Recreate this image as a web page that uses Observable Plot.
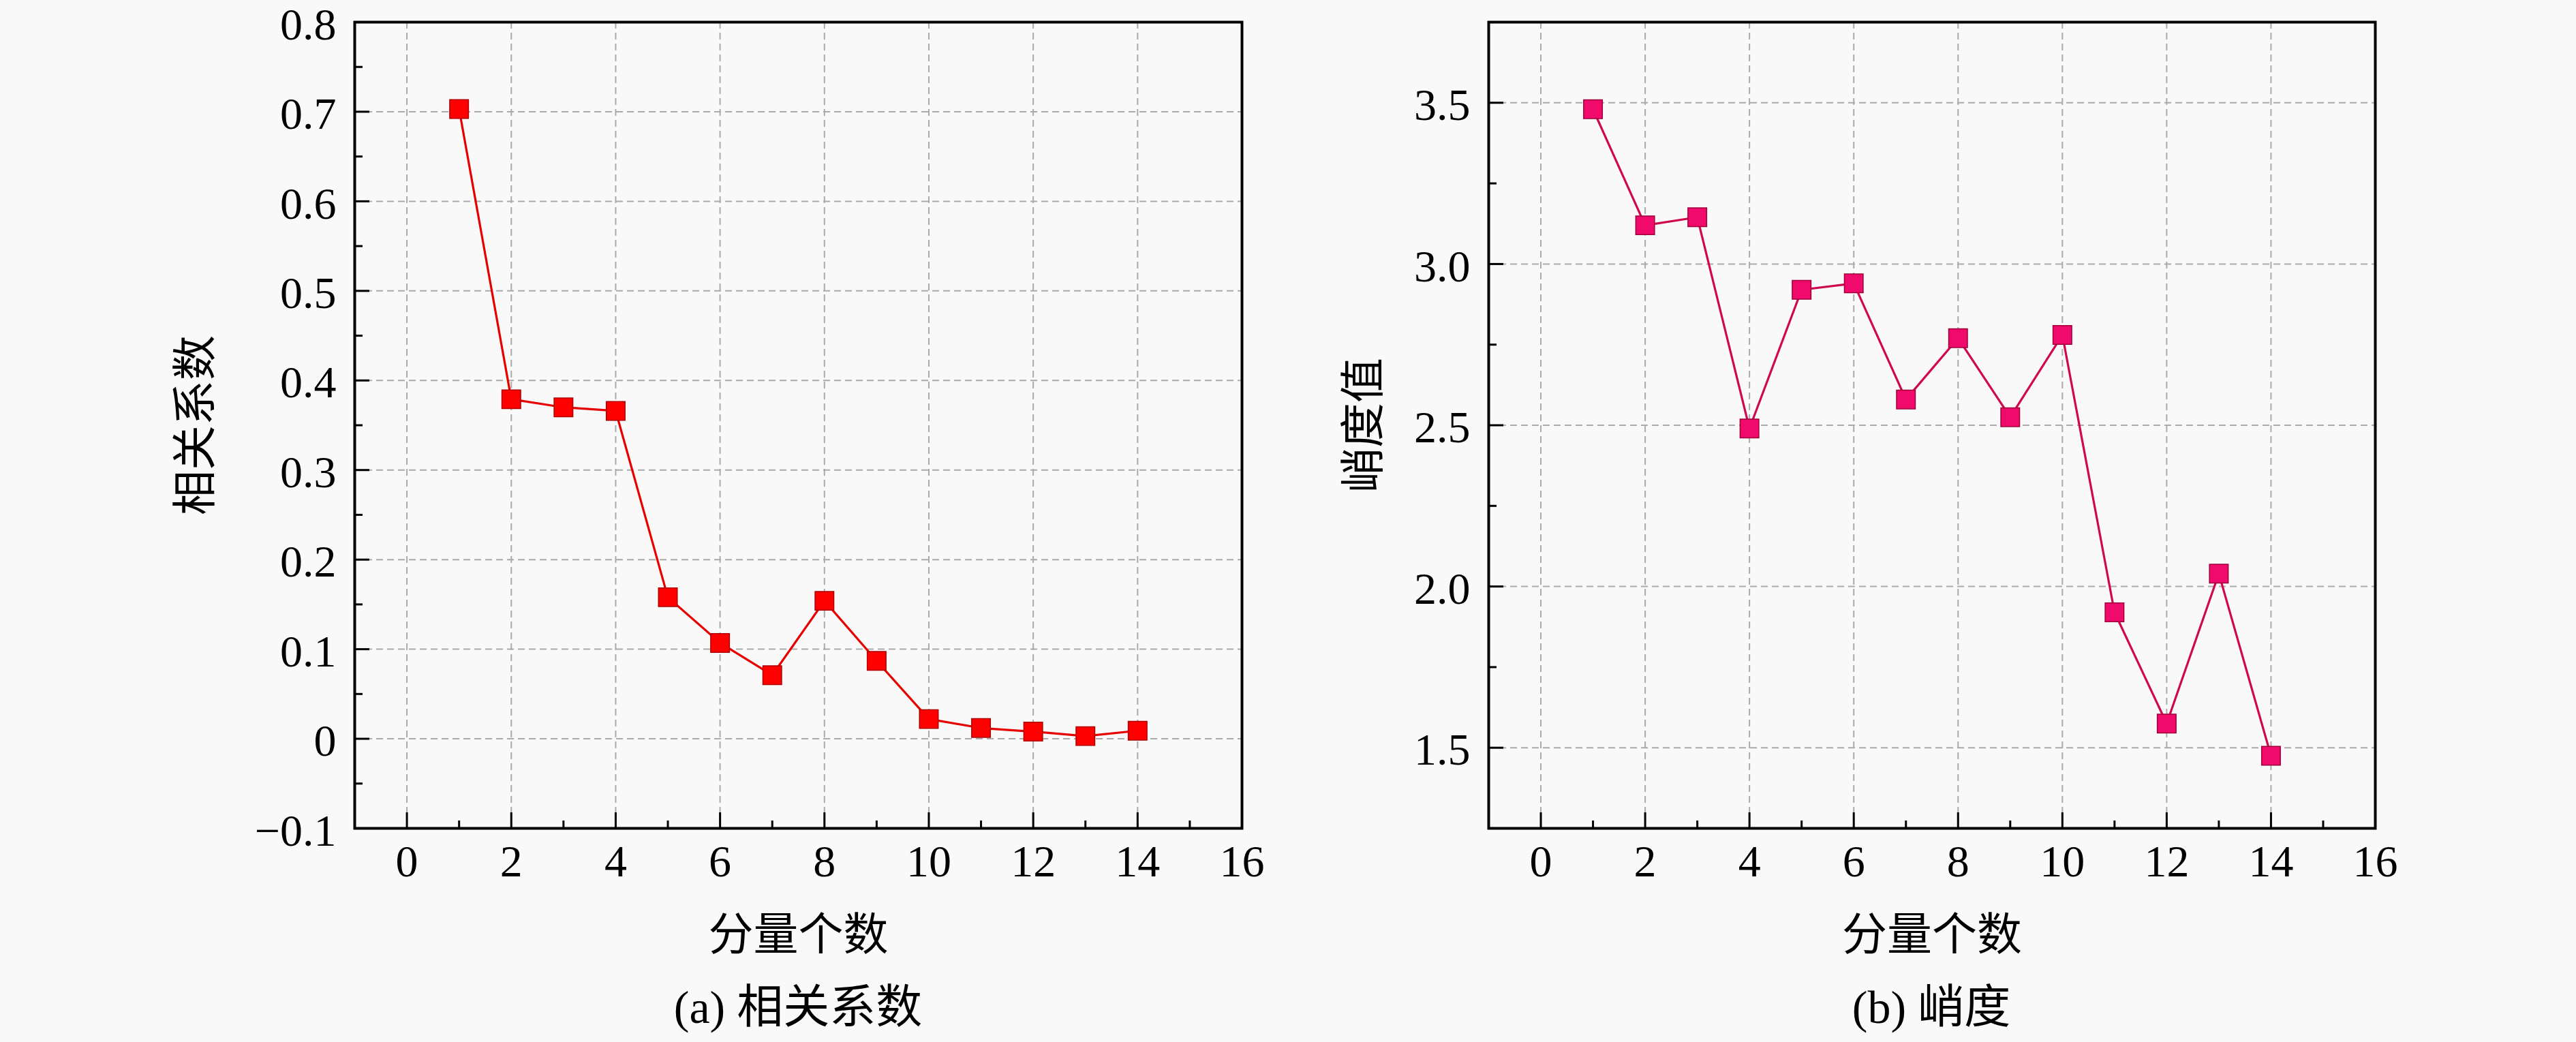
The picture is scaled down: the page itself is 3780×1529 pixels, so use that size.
<!DOCTYPE html>
<html><head><meta charset="utf-8">
<script src="https://cdn.jsdelivr.net/npm/d3@7"></script>
<script src="https://cdn.jsdelivr.net/npm/@observablehq/plot@0.6"></script>
<style>
html,body{margin:0;padding:0;background:#f9f9f9;}
#wrap{position:relative;width:3780px;height:1529px;overflow:hidden;background:#f9f9f9;}
.panel{position:absolute;top:0;}
.cap{position:absolute;top:1438px;font-family:"Liberation Serif","Noto Sans CJK SC";font-size:68px;line-height:80px;white-space:nowrap;color:#000;transform:translateX(-50%);}
</style></head><body>
<div id="wrap"></div>
<script>
// ---- data ----
const components = [1,2,3,4,5,6,7,8,9,10,11,12,13,14];
const corrValues = [0.703,0.379,0.370,0.366,0.158,0.107,0.071,0.154,0.087,0.022,0.012,0.008,0.003,0.009];
const kurtValues = [3.48,3.12,3.145,2.49,2.92,2.94,2.58,2.77,2.525,2.78,1.92,1.575,2.04,1.475];
const xTicks = [0,2,4,6,8,10,12,14,16];
const xMinorTicks = [-1,1,3,5,7,9,11,13,15];
const corrTicks = [-0.1,0,0.1,0.2,0.3,0.4,0.5,0.6,0.7,0.8];
const corrMinorTicks = [-0.05,0.05,0.15,0.25,0.35,0.45,0.55,0.65,0.75];
const kurtTicks = [1.5,2.0,2.5,3.0,3.5];
const kurtMinorTicks = [1.75,2.25,2.75,3.25];
const xTitle = "分量个数";
const corrTitle = "相关系数";
const kurtTitle = "峭度值";
const captions = ["(a) 相关系数", "(b) 峭度"];

const fmt1 = d3.format(".1f");
const corrFmt = d => d === 0 ? "0" : fmt1(d);

function chart({values, yDomain, yTicks, yMinor, yFmt, yLabel, yLabelOffset, marginLeft, marginRight, lineColor, dotFill, dotStroke}) {
  const data = components.map((c, i) => ({c, v: values[i]}));
  const gridStyle = {stroke: "#ababab", strokeOpacity: 1, strokeWidth: 2, strokeDasharray: "10,6"};
  return Plot.plot({
    width: 1890,
    height: 1415,
    marginLeft, marginRight,
    marginTop: 32,
    marginBottom: 200,
    style: {fontSize: "66px", fontFamily: "'Liberation Serif','Noto Sans CJK SC'", background: "transparent", color: "#000", overflow: "visible"},
    x: {domain: [-1, 16]},
    y: {domain: yDomain},
    marks: [
      Plot.gridX(xTicks, gridStyle),
      Plot.gridY(yTicks, gridStyle),
      Plot.line(data, {x: "c", y: "v", stroke: lineColor, strokeWidth: 3.2}),
      Plot.dot(data, {x: "c", y: "v", symbol: "square", r: 15.5, fill: dotFill, stroke: dotStroke, strokeWidth: 1.5}),
      Plot.axisX(xTicks, {tickSize: -23, tickPadding: 47, strokeWidth: 3, tickFormat: d => String(d), label: xTitle, labelAnchor: "center", labelOffset: 178, labelArrow: "none"}),
      Plot.axisX(xMinorTicks, {tickSize: -11, strokeWidth: 3, fill: "none", label: null}),
      Plot.axisY(yTicks, {tickSize: -22, strokeWidth: 3, fill: "none", label: null}),
      Plot.axisY(yTicks, {tickSize: 0, tickPadding: 27, dy: 4, tickFormat: yFmt, label: yLabel, labelAnchor: "center", labelOffset: yLabelOffset, labelArrow: "none"}),
      Plot.axisY(yMinor, {tickSize: -12, strokeWidth: 3, fill: "none", label: null}),
      Plot.frame({stroke: "#000", strokeWidth: 4})
    ]
  });
}

const wrap = document.getElementById("wrap");

const left = chart({
  values: corrValues, yDomain: [-0.1, 0.8], yTicks: corrTicks, yMinor: corrMinorTicks, yFmt: corrFmt,
  yLabel: corrTitle, yLabelOffset: 258, marginLeft: 520, marginRight: 68,
  lineColor: "#e60000", dotFill: "#ff0000", dotStroke: "#b00000"
});
const p1 = document.createElement("div"); p1.className = "panel"; p1.style.left = "0px"; p1.appendChild(left); wrap.appendChild(p1);

const right = chart({
  values: kurtValues, yDomain: [1.25, 3.75], yTicks: kurtTicks, yMinor: kurtMinorTicks, yFmt: fmt1,
  yLabel: kurtTitle, yLabelOffset: 208, marginLeft: 294, marginRight: 295,
  lineColor: "#d0084e", dotFill: "#f00a6c", dotStroke: "#a0003a"
});
const p2 = document.createElement("div"); p2.className = "panel"; p2.style.left = "1890px"; p2.appendChild(right); wrap.appendChild(p2);

[[captions[0], 1171], [captions[1], 2834]].forEach(([t, x]) => {
  const d = document.createElement("div"); d.className = "cap"; d.style.left = x + "px"; d.textContent = t; wrap.appendChild(d);
});
</script>
</body></html>
